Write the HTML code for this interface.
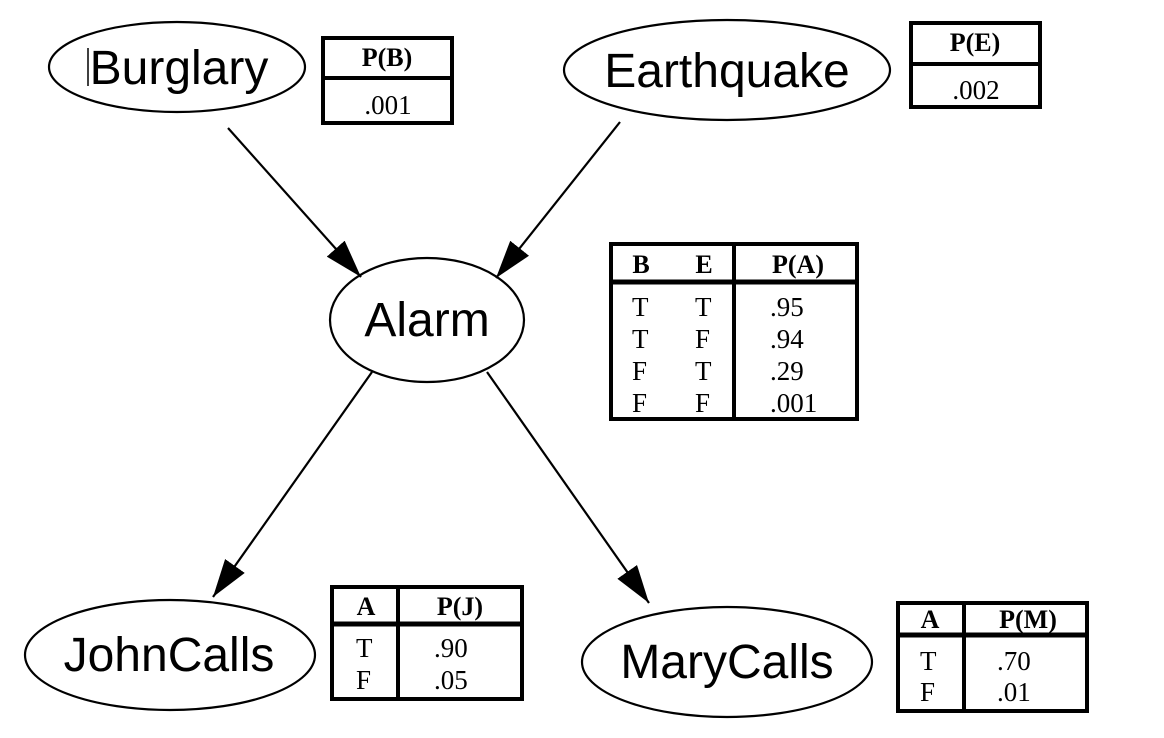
<!DOCTYPE html>
<html><head><meta charset="utf-8"><style>
html,body{margin:0;padding:0;background:#fff;}
svg{display:block;}
.n{font-family:"Liberation Sans",sans-serif;font-size:48px;}
.h{font-family:"Liberation Serif",serif;font-size:26px;font-weight:bold;}
.v{font-family:"Liberation Serif",serif;font-size:27px;}
</style></head><body>
<svg width="1164" height="738" viewBox="0 0 1164 738" xmlns="http://www.w3.org/2000/svg">
<defs>
<marker id="ar" markerWidth="38" markerHeight="24" refX="38" refY="12" orient="auto" markerUnits="userSpaceOnUse">
<path d="M0,0 L38,12 L0,24 Z" fill="#000"/>
</marker>
</defs>
<g fill="none" stroke="#000" stroke-width="2.2">
<ellipse cx="177" cy="67" rx="128" ry="45"/>
<ellipse cx="727" cy="70" rx="163" ry="50"/>
<ellipse cx="427" cy="320" rx="97" ry="62"/>
<ellipse cx="170" cy="655" rx="145" ry="55"/>
<ellipse cx="727" cy="662" rx="145" ry="55"/>
<line x1="228" y1="128" x2="361" y2="277" marker-end="url(#ar)"/>
<line x1="620" y1="122" x2="496" y2="278" marker-end="url(#ar)"/>
<line x1="372" y1="372" x2="213" y2="597" marker-end="url(#ar)"/>
<line x1="487" y1="372" x2="649" y2="603" marker-end="url(#ar)"/>
<line x1="88" y1="48" x2="88" y2="86" stroke-width="1.5"/>
</g>
<g class="n" text-anchor="middle">
<text x="179" y="84">Burglary</text>
<text x="727" y="87">Earthquake</text>
<text x="427" y="336">Alarm</text>
<text x="169" y="671">JohnCalls</text>
<text x="727" y="678">MaryCalls</text>
</g>
<g fill="none" stroke="#000" stroke-width="4">
<rect x="323" y="38" width="129" height="85"/>
<line x1="323" y1="78" x2="452" y2="78"/>
<rect x="911" y="23" width="129" height="84"/>
<line x1="911" y1="64" x2="1040" y2="64"/>
<rect x="611" y="244" width="246" height="175"/>
<line x1="611" y1="282" x2="857" y2="282" stroke-width="5"/>
<line x1="734" y1="244" x2="734" y2="419"/>
<rect x="332" y="587" width="190" height="112"/>
<line x1="332" y1="624" x2="522" y2="624" stroke-width="5"/>
<line x1="398" y1="587" x2="398" y2="699"/>
<rect x="898" y="603" width="189" height="108"/>
<line x1="898" y1="635" x2="1087" y2="635" stroke-width="5"/>
<line x1="964" y1="603" x2="964" y2="711"/>
</g>
<g class="h" text-anchor="middle">
<text x="387" y="66">P(B)</text>
<text x="975" y="51">P(E)</text>
<text x="641" y="273">B</text>
<text x="704" y="273">E</text>
<text x="798" y="273">P(A)</text>
<text x="366" y="615">A</text>
<text x="460" y="615">P(J)</text>
<text x="930" y="628">A</text>
<text x="1028" y="628">P(M)</text>
</g>
<g class="v">
<text x="388" y="114" text-anchor="middle">.001</text>
<text x="976" y="99" text-anchor="middle">.002</text>
<text x="632" y="316">T</text><text x="695" y="316">T</text><text x="770" y="316">.95</text>
<text x="632" y="348">T</text><text x="695" y="348">F</text><text x="770" y="348">.94</text>
<text x="632" y="380">F</text><text x="695" y="380">T</text><text x="770" y="380">.29</text>
<text x="632" y="412">F</text><text x="695" y="412">F</text><text x="770" y="412">.001</text>
<text x="356" y="657">T</text><text x="434" y="657">.90</text>
<text x="356" y="689">F</text><text x="434" y="689">.05</text>
<text x="920" y="670">T</text><text x="997" y="670">.70</text>
<text x="920" y="701">F</text><text x="997" y="701">.01</text>
</g>
</svg>
</body></html>
